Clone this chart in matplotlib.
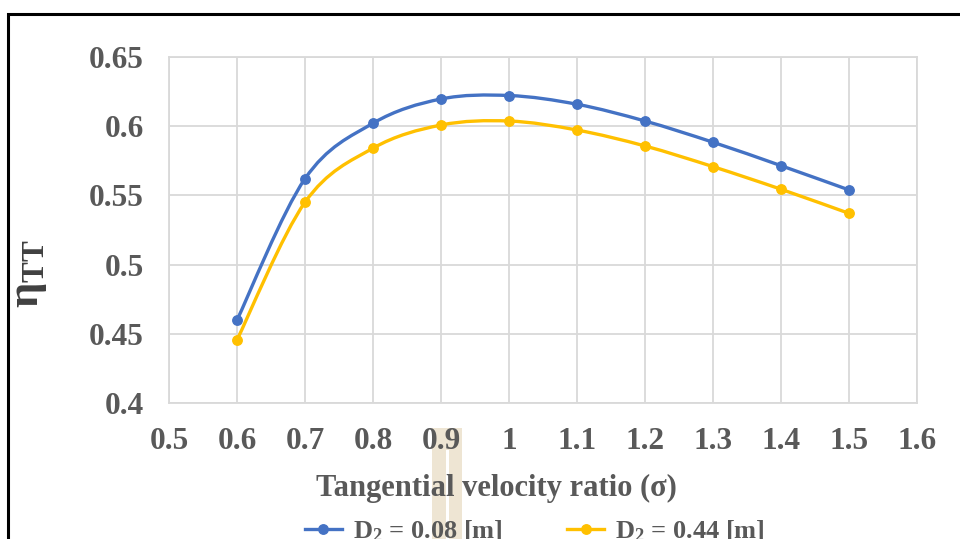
import numpy as np
import matplotlib
matplotlib.use("Agg")
import matplotlib.pyplot as plt
from matplotlib.path import Path
from matplotlib.patches import PathPatch, Rectangle
from matplotlib.lines import Line2D

plt.rcParams["font.family"] = ["Liberation Serif", "DejaVu Serif"]
plt.rcParams["mathtext.fontset"] = "custom"
plt.rcParams["mathtext.rm"] = "Liberation Serif:bold"
plt.rcParams["mathtext.it"] = "Liberation Serif:bold"
plt.rcParams["mathtext.bf"] = "Liberation Serif:bold"

# Tangential velocity ratio and total-to-total efficiency for two rotor diameters
sigma = [0.6, 0.7, 0.8, 0.9, 1.0, 1.1, 1.2, 1.3, 1.4, 1.5]
eta_d008 = [0.460, 0.562, 0.602, 0.6195, 0.622, 0.6157, 0.6036, 0.5883, 0.5714, 0.5539]
eta_d044 = [0.4457, 0.545, 0.584, 0.6007, 0.6036, 0.5971, 0.5856, 0.5707, 0.5544, 0.537]
labels = [r"D$_2$ = 0.08 [m]", r"D$_2$ = 0.44 [m]"]
colors = ["#4472C4", "#FFC000"]

x_ticks = [0.5, 0.6, 0.7, 0.8, 0.9, 1.0, 1.1, 1.2, 1.3, 1.4, 1.5, 1.6]
x_tick_labels = ["0.5", "0.6", "0.7", "0.8", "0.9", "1", "1.1", "1.2", "1.3", "1.4", "1.5", "1.6"]
y_ticks = [0.4, 0.45, 0.5, 0.55, 0.6, 0.65]
y_tick_labels = ["0.4", "0.45", "0.5", "0.55", "0.6", "0.65"]

TEXT = "#595959"


def smooth_path(xs, ys, tension=6.0):
    """Cubic Bezier path through the points (cardinal spline, like spreadsheet smoothing)."""
    xs = np.asarray(xs, float)
    ys = np.asarray(ys, float)
    pts = np.column_stack([xs, ys])
    n = len(pts)
    verts = [pts[0]]
    codes = [Path.MOVETO]
    for i in range(n - 1):
        p0 = pts[i - 1] if i > 0 else pts[i]
        p1 = pts[i]
        p2 = pts[i + 1]
        p3 = pts[i + 2] if i + 2 < n else pts[i + 1]
        c1 = p1 + (p2 - p0) / tension
        c2 = p2 - (p3 - p1) / tension
        verts += [c1, c2, p2]
        codes += [Path.CURVE4] * 3
    return Path(verts, codes)


fig = plt.figure(figsize=(9.6, 5.39), dpi=100)
W, H = 960, 539

# chart frame
fig.patches.append(Rectangle((8 / W, -0.1), 2.0, 1.1 - 14 / H, transform=fig.transFigure,
                             fill=False, edgecolor="black", linewidth=2.2, zorder=-2))

# faint background emblem behind the lower texts
fig.patches.append(Rectangle((432 / W, 0), 30 / W, (539 - 428) / H, transform=fig.transFigure,
                             facecolor="#EEE5D3", edgecolor="none", zorder=-2))
fig.patches.append(Rectangle((446 / W, 0), 3 / W, (539 - 450) / H, transform=fig.transFigure,
                             facecolor="white", edgecolor="none", zorder=-2))

ax = fig.add_axes([169 / W, 1 - 403.3 / H, (917 - 169) / W, (403.3 - 56.7) / H])
ax.set_facecolor("none")
ax.set_xlim(0.5, 1.6)
ax.set_ylim(0.4, 0.65)
ax.set_xticks(x_ticks)
ax.set_xticklabels(x_tick_labels)
ax.set_yticks(y_ticks)
ax.set_yticklabels(y_tick_labels)
ax.grid(True, color="#D9D9D9", linewidth=1.3)
ax.set_axisbelow(True)
for sp in ax.spines.values():
    sp.set_color("#D9D9D9")
    sp.set_linewidth(1.3)
ax.tick_params(length=0, labelsize=22.5, labelcolor=TEXT)
for lab in ax.get_xticklabels() + ax.get_yticklabels():
    lab.set_fontweight("bold")
ax.tick_params(axis="y", pad=18)
ax.tick_params(axis="x", pad=17)

for ys, c in zip([eta_d008, eta_d044], colors):
    ax.add_patch(PathPatch(smooth_path(sigma, ys), facecolor="none", edgecolor=c,
                           linewidth=2.4, zorder=3))
    ax.plot(sigma, ys, linestyle="none", marker="o", markersize=6.8, color=c, zorder=4)

fig.text(496 / W, 1 - 488 / H, "Tangential velocity ratio (σ)", ha="center", va="center",
         fontsize=22, fontweight="bold", color=TEXT)
fig.text(29 / W, 1 - 274 / H, r"$\eta_{\mathrm{TT}}$", rotation=90, ha="center", va="center",
         fontsize=32, color="#404040")

handles = [Line2D([], [], color=c, linewidth=2.4, marker="o", markersize=6.8) for c in colors]
leg = fig.legend(handles, labels, loc="center", bbox_to_anchor=(535 / W, 1 - 531 / H),
                 ncol=2, frameon=False, fontsize=19, handlelength=1.4, columnspacing=2.45,
                 handletextpad=0.42, borderaxespad=0)
for t in leg.get_texts():
    t.set_color(TEXT)
    t.set_fontweight("bold")

fig.savefig("out.png", dpi=100, facecolor="white")
